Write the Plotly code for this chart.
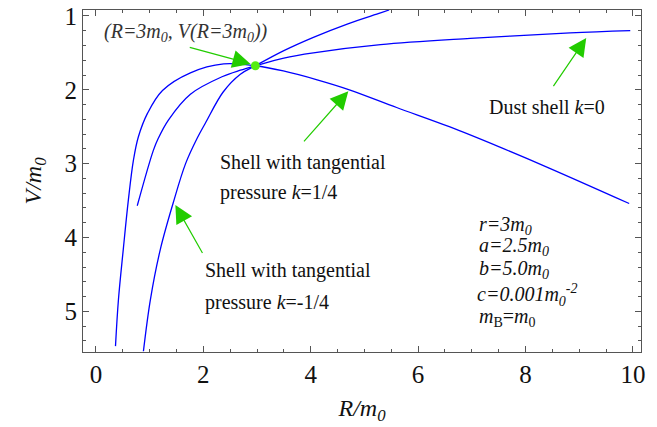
import plotly.graph_objects as go

# --- data ---
R_k_pos = [0.365, 0.42, 0.51, 0.605, 0.70, 0.79, 0.96, 1.24, 1.76, 2.38, 2.97, 3.49, 4.12, 4.72, 5.6, 6.58, 7.5, 8.44, 9.93]
V_k_pos = [5.47, 4.84, 4.16, 3.49, 2.95, 2.64, 2.32, 2.01, 1.77, 1.65, 1.675, 1.745, 1.865, 2.00, 2.24, 2.50, 2.77, 3.06, 3.54]

R_dust = [0.77, 1.07, 1.16, 1.35, 1.76, 2.36, 2.69, 2.97, 3.5, 4.05, 5.3, 6.97, 8.83, 9.95]
V_dust = [3.57, 2.82, 2.66, 2.41, 2.06, 1.82, 1.735, 1.675, 1.57, 1.50, 1.39, 1.305, 1.23, 1.20]

R_k_neg = [0.885, 1.015, 1.20, 1.44, 1.67, 1.89, 2.04, 2.37, 2.69, 2.97, 3.5, 4.05, 4.68, 5.3, 5.46]
V_k_neg = [5.54, 4.84, 4.16, 3.53, 3.00, 2.65, 2.45, 2.03, 1.79, 1.675, 1.47, 1.29, 1.11, 0.96, 0.92]

point_R = [2.97]
point_V = [1.675]

x_ticks = [0, 2, 4, 6, 8, 10]
y_ticks = [1, 2, 3, 4, 5]

FONT = "Liberation Serif"
BLUE = "#0000ff"
GREEN = "#22cc00"

fig = go.Figure()
for R, V in [(R_k_pos, V_k_pos), (R_dust, V_dust), (R_k_neg, V_k_neg)]:
    fig.add_trace(go.Scatter(x=R, y=V, mode="lines", line=dict(color=BLUE, width=1.3, shape="spline", smoothing=1.0),
                             showlegend=False, hoverinfo="skip"))
fig.add_trace(go.Scatter(x=point_R, y=point_V, mode="markers", marker=dict(color="#55ee11", size=9),
                         showlegend=False))

axis_common = dict(
    showline=True, linecolor="#555", linewidth=1.2, mirror="allticks",
    ticks="inside", ticklen=6, tickwidth=1, tickcolor="#555",
    showgrid=False, zeroline=False, automargin=False,
    tickfont=dict(family=FONT, size=25, color="#111"),
)

fig.update_xaxes(range=[-0.24, 10.15], tickvals=x_ticks, ticktext=[str(v) for v in x_ticks],
                 minor=dict(dtick=0.5, ticks="inside", ticklen=3, tickcolor="#555"),
                 title=dict(text="<i>R/m<sub>0</sub></i>", font=dict(family=FONT, size=24, color="#111"), standoff=12),
                 **axis_common)
fig.update_yaxes(range=[5.55, 0.92], tickvals=y_ticks, ticktext=[str(v) for v in y_ticks],
                 minor=dict(dtick=0.2, ticks="inside", ticklen=3, tickcolor="#555"),
                 title=dict(text="<i>V/m<sub>0</sub></i>", font=dict(family=FONT, size=24, color="#111"), standoff=16),
                 **axis_common)

arrows = [
    ((2.88, 1.65), (1.72, 1.42)),
    ((4.70, 2.02), (3.85, 2.72)),
    ((9.13, 1.30), (8.50, 1.97)),
    ((1.48, 3.56), (2.00, 4.23)),
]
anns = []
for (hx, hy), (tx, ty) in arrows:
    anns.append(dict(x=hx, y=hy, ax=tx, ay=ty, xref="x", yref="y", axref="x", ayref="y",
                     text="", showarrow=True, arrowhead=2, arrowsize=3.0, arrowwidth=1.2, arrowcolor=GREEN))

def txt(s, px, py, size=20, anchor="left", italic=False, color="#111"):
    if italic:
        s = "<i>" + s + "</i>"
    anns.append(dict(text=s, x=(px - 83) / 558, y=(352 - py) / 342, xref="paper", yref="paper",
                     xanchor=anchor, yanchor="middle", showarrow=False,
                     font=dict(family=FONT, size=size, color=color)))

txt("(R=3m<sub>0</sub>, V(R=3m<sub>0</sub>))", 186, 32, size=20, anchor="center", italic=True, color="#333")
txt("Shell with tangential", 218, 162)
txt("pressure <i>k</i>=1/4", 218, 192)
txt("Shell with tangential", 203, 270)
txt("pressure <i>k</i>=-1/4", 203, 302)
txt("Dust shell <i>k</i>=0", 487, 107)
txt("<i>r</i>=3<i>m</i><sub>0</sub>", 477, 225, italic=True)
txt("<i>a</i>=2.5<i>m</i><sub>0</sub>", 477, 247, italic=True)
txt("<i>b</i>=5.0<i>m</i><sub>0</sub>", 477, 269, italic=True)
txt("<i>c</i>=0.001<i>m</i><sub>0</sub><sup>-2</sup>", 475, 295, italic=True)
txt("<i>m</i><sub>B</sub>=<i>m</i><sub>0</sub>", 477, 317)

fig.update_layout(
    width=657, height=427,
    margin=dict(l=83, r=16, t=10, b=75),
    paper_bgcolor="white", plot_bgcolor="white",
    annotations=anns,
    font=dict(family=FONT),
)

fig.write_html("out.html", config={"displayModeBar": False},
               post_script="document.body.style.margin='0';document.body.style.overflow='hidden';")
